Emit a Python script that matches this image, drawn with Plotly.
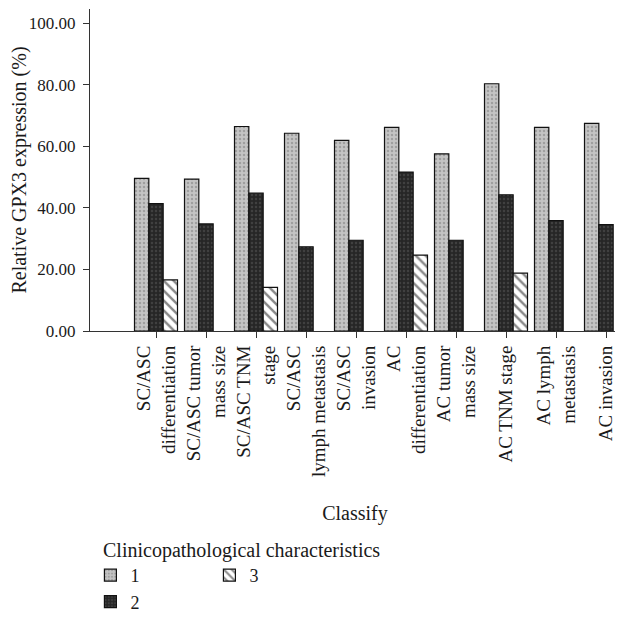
import plotly.graph_objects as go

categories = ["SC/ASC<br>differentiation", "SC/ASC tumor<br>mass size", "SC/ASC TNM<br>stage",
              "SC/ASC<br>lymph metastasis", "SC/ASC<br>invasion", "AC<br>differentiation",
              "AC tumor<br>mass size", "AC TNM stage", "AC lymph<br>metastasis", "AC invasion"]
series1 = [49.6, 49.4, 66.5, 64.3, 62.0, 66.2, 57.6, 80.4, 66.2, 67.5]
series2 = [41.4, 34.8, 44.8, 27.4, 29.5, 51.7, 29.5, 44.3, 35.9, 34.6]
series3 = [16.6, None, 14.2, None, None, 24.7, None, 18.8, None, None]
y_ticks = [0, 20, 40, 60, 80, 100]
y_ticktext = ["0.00", "20.00", "40.00", "60.00", "80.00", "100.00"]
legend_title = "Clinicopathological characteristics"

FONT = "Liberation Serif"
line = dict(color="#111111", width=1.2)

fig = go.Figure()
fig.add_trace(go.Bar(
    x=categories, y=series1, name="1", legendgroup="a",
    marker=dict(color="#c4c4c4", line=line,
                pattern=dict(shape=".", fgcolor="#7a7a7a", bgcolor="#c4c4c4", size=4, solidity=0.3)),
))
fig.add_trace(go.Bar(
    x=categories, y=series2, name="2", legendgroup="a",
    marker=dict(color="#262626", line=line,
                pattern=dict(shape=".", fgcolor="#5a5a5a", bgcolor="#262626", size=4, solidity=0.3)),
))
fig.add_trace(go.Bar(
    x=categories, y=series3, name="3", legendgroup="b",
    marker=dict(color="white", line=line,
                pattern=dict(shape="\\", fgcolor="#111111", bgcolor="white", size=7, solidity=0.35)),
))

fig.update_layout(
    width=615, height=612,
    margin=dict(l=82, r=3, t=1, b=289, autoexpand=False),
    paper_bgcolor="white", plot_bgcolor="white",
    font=dict(family=FONT, size=19, color="#1a1a1a"),
    barmode="group", bargap=0.14, bargroupgap=0,
    showlegend=True,
    legend=dict(
        orientation="h", traceorder="grouped", entrywidth=74, tracegroupgap=0,
        xref="container", yref="container", x=0.134, y=0.103,
        xanchor="left", yanchor="top",
        font=dict(family=FONT, size=18),
    ),
    annotations=[dict(
        text=legend_title, xref="paper", yref="paper", x=0.0208, y=-0.683,
        xanchor="left", yanchor="middle", showarrow=False,
        font=dict(family=FONT, size=20, color="#1a1a1a"),
    )],
)
fig.update_xaxes(
    range=[-1.32, 9.28], showline=True, linecolor="#333333", linewidth=1.2,
    ticks="outside", ticklen=6, tickcolor="#333333", tickangle=-90,
    tickfont=dict(family=FONT, size=19), automargin=False,
    title=dict(text="Classify", font=dict(family=FONT, size=20), standoff=29),
    showgrid=False, zeroline=False,
)
fig.update_yaxes(
    range=[0, 104.7], showline=True, linecolor="#333333", linewidth=1.2,
    ticks="outside", ticklen=6, tickcolor="#333333", ticklabelstandoff=4,
    tickvals=y_ticks, ticktext=y_ticktext, automargin=False,
    tickfont=dict(family=FONT, size=17),
    title=dict(text="Relative GPX3 expression (%)", font=dict(family=FONT, size=20), standoff=14),
    showgrid=False, zeroline=False,
)

fig.write_html("out.html")
